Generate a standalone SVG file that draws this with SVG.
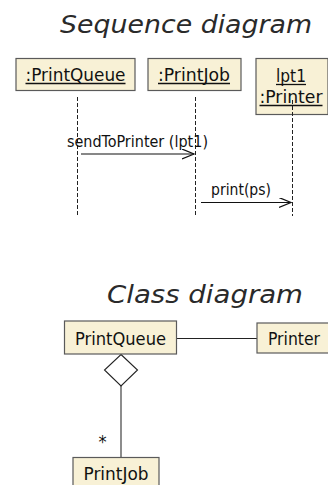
<svg xmlns="http://www.w3.org/2000/svg" width="328" height="485" viewBox="0 0 328 485">
  <style>
    .title { font-family: "DejaVu Sans", sans-serif; font-weight: 200; font-style: italic; font-size: 25px; fill: #2a2a2a; }
    .box { fill: #f8f1d6; stroke: #5a5a5a; stroke-width: 1.2; }
    .lbl { font-family: "DejaVu Sans Condensed", "DejaVu Sans", sans-serif; font-size: 18px; fill: #111; }
    .msg { font-family: "DejaVu Sans Condensed", "DejaVu Sans", sans-serif; font-size: 15px; fill: #111; }
    .ul { stroke: #111; stroke-width: 1.3; }
    .life { stroke: #222; stroke-width: 1; stroke-dasharray: 4 2; fill: none; }
    .call { stroke: #111; stroke-width: 1.2; fill: none; }
    .assoc { stroke: #222; stroke-width: 1.2; fill: none; }
    .agg { stroke: #707070; stroke-width: 1.6; fill: none; }
  </style>
  <defs>
    <marker id="open" markerWidth="14" markerHeight="12" refX="12" refY="5" orient="auto" markerUnits="userSpaceOnUse">
      <path d="M0,0 L12,5 L0,10" fill="none" stroke="#111" stroke-width="1.2"/>
    </marker>
  </defs>

  <rect width="328" height="485" fill="#ffffff"/>

  <!-- sequence diagram -->
  <text class="title" x="60" y="33" textLength="252" lengthAdjust="spacingAndGlyphs">Sequence diagram</text>

  <g id="connectors-seq">
    <line class="life" x1="77.5" y1="97" x2="77.5" y2="216"/>
    <line class="life" x1="195.5" y1="97" x2="195.5" y2="216"/>
    <line class="call" x1="81" y1="154" x2="194" y2="154" marker-end="url(#open)"/>
    <text class="msg" x="67" y="147" textLength="141" lengthAdjust="spacingAndGlyphs">sendToPrinter (lpt1)</text>
    <line class="call" x1="201" y1="202.5" x2="291" y2="202.5" marker-end="url(#open)"/>
    <text class="msg" x="211" y="195" textLength="60" lengthAdjust="spacingAndGlyphs">print(ps)</text>
  </g>

  <g id="obj-printqueue">
    <rect class="box" x="16" y="58.5" width="119" height="32"/>
    <text class="lbl" x="75.5" y="81" text-anchor="middle" textLength="100" lengthAdjust="spacingAndGlyphs">:PrintQueue</text>
    <line class="ul" x1="25.5" y1="83.5" x2="125.5" y2="83.5"/>
  </g>

  <g id="obj-printjob">
    <rect class="box" x="148" y="58.5" width="93" height="32"/>
    <text class="lbl" x="194" y="81" text-anchor="middle" textLength="72" lengthAdjust="spacingAndGlyphs">:PrintJob</text>
    <line class="ul" x1="158" y1="83.5" x2="230" y2="83.5"/>
  </g>

  <g id="obj-printer">
    <rect class="box" x="256" y="58.5" width="72" height="56"/>
    <text class="lbl" x="291" y="82" text-anchor="middle" textLength="30" lengthAdjust="spacingAndGlyphs">lpt1</text>
    <line class="ul" x1="276" y1="84.5" x2="306" y2="84.5"/>
    <text class="lbl" x="291" y="103" text-anchor="middle" textLength="63" lengthAdjust="spacingAndGlyphs">:Printer</text>
    <line class="ul" x1="259.5" y1="105.5" x2="322.5" y2="105.5"/>
    <line class="life" x1="292.5" y1="100" x2="292.5" y2="216"/>
  </g>

  <!-- class diagram -->
  <text class="title" x="107" y="303" textLength="196" lengthAdjust="spacingAndGlyphs">Class diagram</text>

  <g id="connectors-class">
    <line class="assoc" x1="177" y1="338.5" x2="257" y2="338.5"/>
    <line class="agg" x1="121" y1="386" x2="121" y2="458"/>
    <polygon points="121,354.5 137.5,370 121,386 104.5,370" fill="#ffffff" stroke="#222" stroke-width="1.1"/>
    <text class="lbl" x="102.5" y="448" text-anchor="middle">*</text>
  </g>

  <g id="cls-printqueue">
    <rect class="box" x="64.5" y="321" width="112" height="33"/>
    <text class="lbl" x="120.5" y="345" text-anchor="middle" textLength="91" lengthAdjust="spacingAndGlyphs">PrintQueue</text>
  </g>

  <g id="cls-printer">
    <rect class="box" x="257" y="323" width="80" height="30"/>
    <text class="lbl" x="294" y="345" text-anchor="middle" textLength="52" lengthAdjust="spacingAndGlyphs">Printer</text>
  </g>

  <g id="cls-printjob">
    <rect class="box" x="73" y="457.5" width="86" height="40"/>
    <text class="lbl" x="116" y="480" text-anchor="middle" textLength="65" lengthAdjust="spacingAndGlyphs">PrintJob</text>
  </g>
</svg>
